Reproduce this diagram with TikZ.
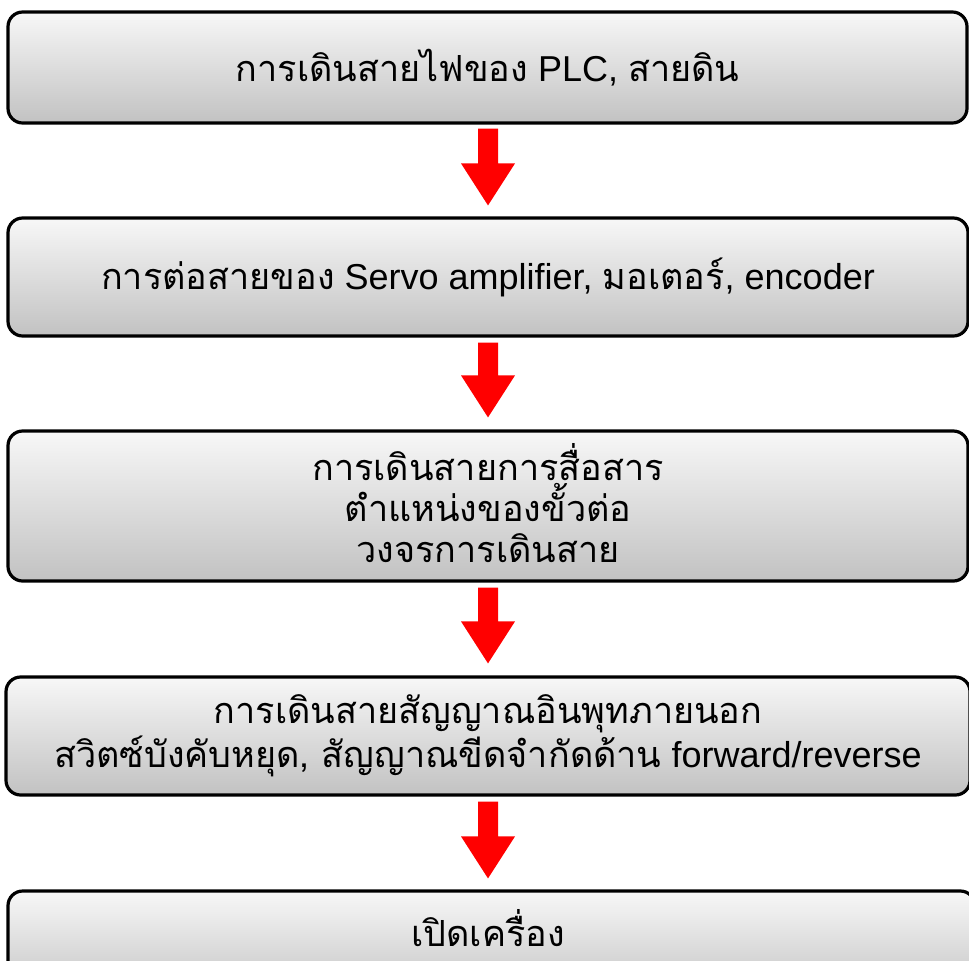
\documentclass[tikz,border=0pt]{standalone}
\usepackage{fontspec}
\setmainfont{Liberation Sans}
\newfontfamily\thai[Script=Thai]{Loma}
\usetikzlibrary{calc}
\tikzset{
  stepbox/.style={draw=black, line width=2.4pt, rounded corners=11pt,
    top color=black!3, bottom color=black!24, inner sep=0pt, align=center,
    font=\fontsize{27}{30.5}\selectfont},
  redarrow/.style={fill=red, draw=none},
}
\newcommand{\downarrowshape}[2]{% #1 top coord, #2 tip coord
  \fill[redarrow] ($(#1)+(-10,0)$) -- ($(#1)+(10,0)$) -- ($(#2)+(10,-42)$) -- ($(#2)+(27,-42)$)
    -- (#2) -- ($(#2)+(-27,-42)$) -- ($(#2)+(-10,-42)$) -- cycle;}
\begin{document}
\begin{tikzpicture}[x=0.75pt,y=-0.75pt]
\useasboundingbox (0,0) rectangle (969,960);
\begin{scope}
\clip (0,0) rectangle (969,960);
\node[stepbox, minimum width=959*0.75pt, minimum height=111*0.75pt] (b1) at (487.5,67.5) {};
\node[stepbox, minimum width=960*0.75pt, minimum height=118*0.75pt] (b2) at (488,277) {};
\node[stepbox, minimum width=960*0.75pt, minimum height=150*0.75pt] (b3) at (488,506) {};
\node[stepbox, minimum width=964*0.75pt, minimum height=118*0.75pt] (b4) at (488,736) {};
\node[stepbox, minimum width=967*0.75pt, minimum height=109*0.75pt] (b5) at (491.5,945.5) {};
\end{scope}
\tikzset{lbl/.style={align=center, inner sep=0pt, font=\fontsize{27}{30.5}\selectfont}}
\node[lbl] (t1) at (b1.center) {{\thai การเดินสายไฟของ} PLC, {\thai สายดิน}};
\node[lbl] (t2) at (b2.center) {{\thai การต่อสายของ} Servo amplifier, {\thai มอเตอร์}, encoder};
\node[lbl] (t3) at (488,503)
  {\thai การเดินสายการสื่อสาร\\ \thai ตำแหน่งของขั้วต่อ\\ \thai วงจรการเดินสาย};
\node[lbl, font=\fontsize{27}{33}\selectfont] (t4) at (b4.center)
  {\thai การเดินสายสัญญาณอินพุทภายนอก\\ {\thai สวิตซ์บังคับหยุด, สัญญาณขีดจำกัดด้าน} forward/reverse};
\node[lbl] (t5) at (488,928) {\thai เปิดเครื่อง};
\coordinate (ax) at (488,0);
\coordinate (a1s) at ($(ax |- b1.south)+(0,4)$);
\coordinate (a1e) at ($(ax |- b2.north)+(0,-11)$);
\coordinate (a2s) at ($(ax |- b2.south)+(0,5)$);
\coordinate (a2e) at ($(ax |- b3.north)+(0,-12)$);
\coordinate (a3s) at ($(ax |- b3.south)+(0,5)$);
\coordinate (a3e) at ($(ax |- b4.north)+(0,-12)$);
\coordinate (a4s) at ($(ax |- b4.south)+(0,5)$);
\coordinate (a4e) at ($(ax |- b5.north)+(0,-11)$);
\downarrowshape{a1s}{a1e}
\downarrowshape{a2s}{a2e}
\downarrowshape{a3s}{a3e}
\downarrowshape{a4s}{a4e}
\end{tikzpicture}
\end{document}
